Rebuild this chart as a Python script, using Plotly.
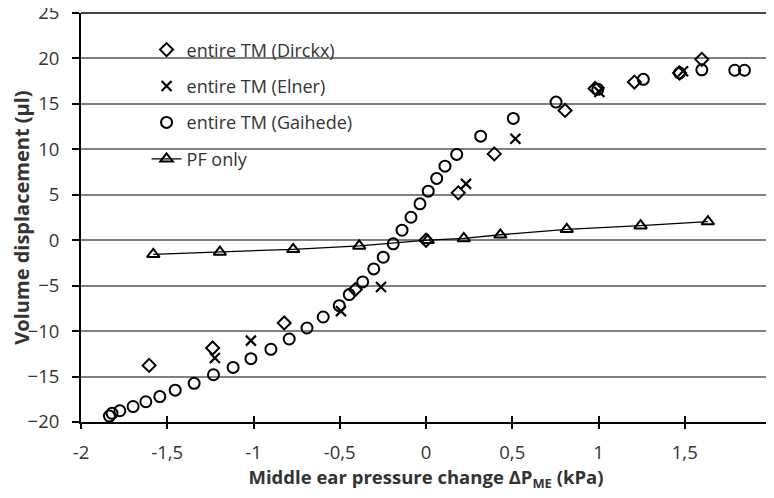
import plotly.graph_objects as go

# Data
dirckx_x = [-1.605, -1.237, -0.822, -0.41, 0.0, 0.187, 0.396, 0.806, 0.98, 1.208, 1.47, 1.599]
dirckx_y = [-13.77, -11.86, -9.1, -5.43, 0.0, 5.21, 9.5, 14.28, 16.7, 17.4, 18.4, 19.9]

elner_x = [-1.224, -1.015, -0.493, -0.261, 0.232, 0.518, 1.005, 1.49]
elner_y = [-12.96, -11.05, -7.8, -5.14, 6.2, 11.16, 16.3, 18.6]

gaihede_x = [-1.835, -1.82, -1.775, -1.698, -1.624, -1.543, -1.454, -1.344, -1.232, -1.118,
             -1.015, -0.899, -0.793, -0.69, -0.596, -0.503, -0.445, -0.367, -0.303, -0.248,
             -0.19, -0.139, -0.087, -0.035, 0.013, 0.062, 0.11, 0.178, 0.317, 0.506,
             0.754, 0.996, 1.26, 1.47, 1.599, 1.79, 1.846]
gaihede_y = [-19.35, -19.05, -18.76, -18.3, -17.77, -17.2, -16.5, -15.75, -14.8, -13.99,
             -13.03, -12.0, -10.87, -9.66, -8.45, -7.2, -5.98, -4.59, -3.16, -1.87,
             -0.4, 1.1, 2.53, 4.0, 5.4, 6.8, 8.15, 9.44, 11.45, 13.4,
             15.2, 16.6, 17.7, 18.4, 18.75, 18.7, 18.7]

pf_x = [-1.581, -1.195, -0.77, -0.387, 0.01, 0.219, 0.431, 0.816, 1.244, 1.634]
pf_y = [-1.55, -1.3, -1.0, -0.63, 0.0, 0.2, 0.6, 1.2, 1.6, 2.05]

x_tickvals = [-2, -1.5, -1, -0.5, 0, 0.5, 1, 1.5, 2]
x_ticktext = ["-2", "-1,5", "-1", "-0,5", "0", "0,5", "1", "1,5", "2"]
y_tickvals = [-20, -15, -10, -5, 0, 5, 10, 15, 20, 25]

FONT = "Open Sans"
TXT = "#333333"

fig = go.Figure()

fig.add_trace(go.Scatter(
    x=dirckx_x, y=dirckx_y, mode="markers", name="entire TM (Dirckx)",
    legendgroup="a",
    marker=dict(symbol="diamond-open", size=10, color="black", line=dict(width=2, color="black"))))
fig.add_trace(go.Scatter(
    x=elner_x, y=elner_y, mode="markers", name="entire TM (Elner)",
    legendgroup="b",
    marker=dict(symbol="x-thin-open", size=10, color="black", line=dict(width=2.2, color="black"))))
fig.add_trace(go.Scatter(
    x=gaihede_x, y=gaihede_y, mode="markers", name="entire TM (Gaihede)",
    legendgroup="c",
    marker=dict(symbol="circle-open", size=11, color="black", line=dict(width=2, color="black"))))
fig.add_trace(go.Scatter(
    x=pf_x, y=pf_y, mode="lines+markers", name="PF only",
    legendgroup="d",
    line=dict(color="black", width=1.3),
    marker=dict(symbol="triangle-up-open", size=11, color="black", line=dict(width=2, color="black"))))

fig.update_layout(
    width=766, height=490,
    margin=dict(l=73, r=3, t=5, b=76),
    paper_bgcolor="white", plot_bgcolor="white",
    font=dict(family=FONT, color=TXT, size=17),
    showlegend=True,
    legend=dict(
        x=0.095, y=0.955, xanchor="left", yanchor="top",
        bgcolor="rgba(255,255,255,0)", borderwidth=0,
        font=dict(family=FONT, size=18, color=TXT),
        tracegroupgap=10, itemwidth=30,
    ),
    xaxis=dict(
        range=[-2, 2], tickvals=x_tickvals, ticktext=x_ticktext,
        showgrid=False, zeroline=False, automargin=False,
        showline=True, linecolor="black", linewidth=2,
        ticks="outside", ticklen=5, tickwidth=2, tickcolor="black",
        ticklabelstandoff=8, ticklabeloverflow="allow",
        tickfont=dict(family=FONT, size=18.5, color=TXT),
        title=dict(text="<b>Middle ear pressure change ΔP<sub>ME</sub> (kPa)</b>",
                   font=dict(family=FONT, size=18.5, color=TXT), standoff=5),
    ),
    xaxis2=dict(
        range=[-2, 2], tickvals=x_tickvals, overlaying="x", anchor="y",
        showticklabels=False, showgrid=False, zeroline=False,
        ticks="inside", ticklen=6, tickwidth=2, tickcolor="black", showline=False,
    ),
    yaxis=dict(
        range=[-20, 25], tickvals=y_tickvals,
        showgrid=True, gridcolor="#808080", gridwidth=1.6, zeroline=False, automargin=False,
        showline=True, linecolor="black", linewidth=2,
        ticks="outside", ticklen=7, tickwidth=2, tickcolor="black",
        ticklabelstandoff=9, ticklabeloverflow="allow",
        tickfont=dict(family=FONT, size=18.5, color=TXT),
        title=dict(text="<b>Volume displacement (µl)</b>",
                   font=dict(family=FONT, size=20, color=TXT), standoff=14),
    ),
)

# invisible trace to activate xaxis2 (inside tick marks, Excel "cross" style)
fig.add_trace(go.Scatter(x=[None], y=[None], xaxis="x2", showlegend=False, hoverinfo="skip"))

# plot-area frame (top and right border)
fig.add_shape(type="line", xref="paper", yref="paper", x0=1, x1=1, y0=0, y1=1,
              line=dict(color="#555555", width=1.5))
fig.add_shape(type="line", xref="paper", yref="paper", x0=0, x1=1, y0=1, y1=1,
              line=dict(color="#444444", width=1.8))

fig.write_html("out.html")
